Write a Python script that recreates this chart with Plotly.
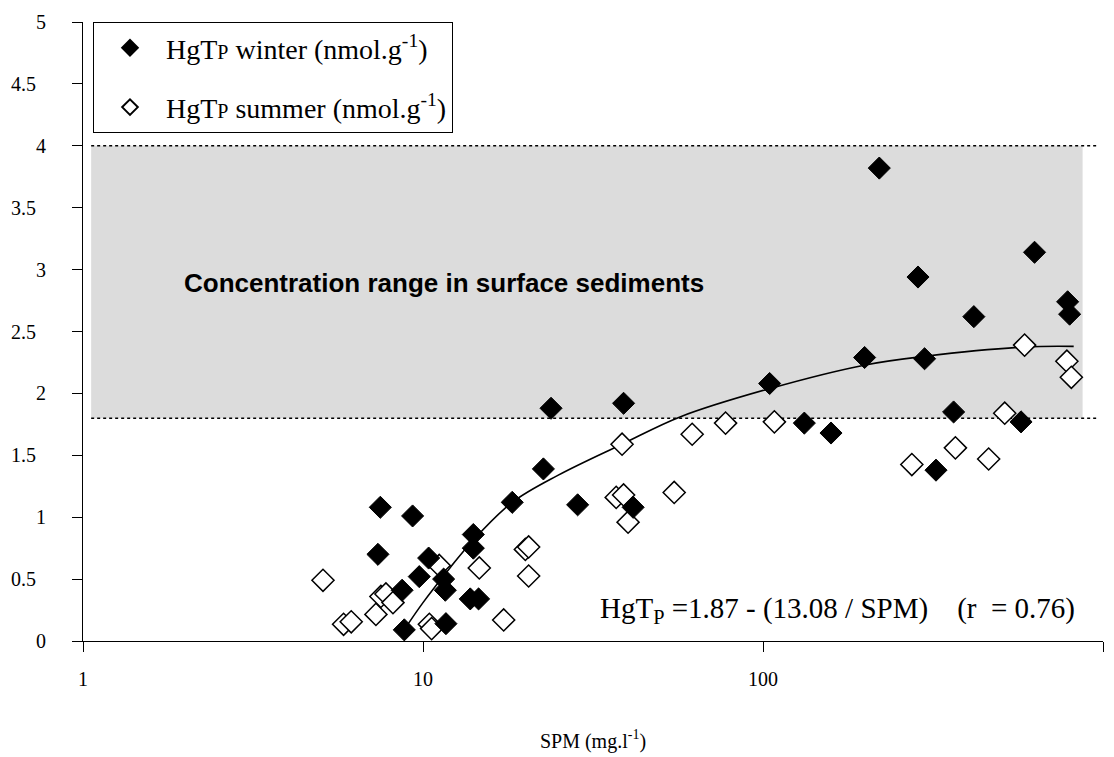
import plotly.graph_objects as go

# ---- data ----
winter_spm = [7.49, 9.32, 7.37, 10.39, 9.75, 8.68, 11.5, 11.63, 14.06, 14.06, 18.3, 13.77, 14.57,
              8.81, 11.68, 23.8, 38.9, 22.6, 28.5, 41.5, 104.6, 132.3, 158.5, 363.6, 322.7, 574,
              219.8, 629, 285.7, 417, 787, 797.8, 199, 298.7]
winter_hg = [1.08, 1.01, 0.70, 0.67, 0.52, 0.41, 0.50, 0.41, 0.86, 0.75, 1.12, 0.34, 0.34,
             0.09, 0.14, 1.88, 1.92, 1.39, 1.10, 1.08, 2.08, 1.76, 1.68, 1.85, 1.38, 1.77,
             3.82, 3.14, 2.94, 2.62, 2.74, 2.64, 2.29, 2.28]

summer_spm = [5.08, 5.84, 6.15, 7.27, 7.52, 7.78, 8.16, 11.16, 10.44, 10.6, 14.64, 17.27,
              38.5, 61.9, 77.6, 108, 37.0, 38.9, 40.1, 54.8, 20.0, 20.45, 20.45,
              274, 368, 461, 514, 588, 783, 807]
summer_hg = [0.49, 0.135, 0.155, 0.215, 0.36, 0.38, 0.31, 0.61, 0.135, 0.10, 0.59, 0.17,
             1.59, 1.67, 1.76, 1.77, 1.16, 1.18, 0.96, 1.20, 0.74, 0.76, 0.525,
             1.425, 1.56, 1.47, 1.84, 2.39, 2.26, 2.13]

fit_spm = [8.8, 10, 12, 14, 18.3, 25, 38.5, 57, 105, 200, 300, 590, 820]
fit_hg = [0.09, 0.31, 0.59, 0.81, 1.12, 1.34, 1.59, 1.81, 2.04, 2.23, 2.30, 2.375, 2.38]

sediment_range = [1.8, 4.0]

x_tickvals = [1, 10, 100, 1000]
x_ticktext = ["1", "10", "100", "1000"]
y_tickvals = [0, 0.5, 1, 1.5, 2, 2.5, 3, 3.5, 4, 4.5, 5]
y_ticktext = ["0", "0.5", "1", "1.5", "2", "2.5", "3", "3.5", "4", "4.5", "5"]

SERIF = "Liberation Serif"
SANS = "Liberation Sans"
P_SMALL = '<span style="font-size:20px">P</span>'
NB = "\u00a0"
# decimal labels sit a little further left than the integer ones in the reference
y_ticklabels = [t + NB * 2 if "." in t else t for t in y_ticktext]

fig = go.Figure()

fig.add_trace(go.Scatter(
    x=fit_spm, y=fit_hg, mode="lines",
    line=dict(color="black", width=1.6, shape="spline", smoothing=1.0),
    showlegend=False, hoverinfo="skip"))

fig.add_trace(go.Scatter(
    x=summer_spm, y=summer_hg, mode="markers",
    name="HgT" + P_SMALL + " summer (nmol.g<sup>-1</sup>)",
    marker=dict(symbol="diamond", size=17, color="white", line=dict(color="black", width=1.5)),
    legendgroup="s", legendrank=2))

fig.add_trace(go.Scatter(
    x=winter_spm, y=winter_hg, mode="markers",
    name="HgT" + P_SMALL + " winter (nmol.g<sup>-1</sup>)",
    marker=dict(symbol="diamond", size=17, color="black", line=dict(color="black", width=1)),
    legendgroup="w", legendrank=1))

# grey band and dotted limits
fig.add_shape(type="rect", xref="paper", yref="y", x0=0.008, x1=0.980,
              y0=sediment_range[0], y1=sediment_range[1],
              fillcolor="#dcdcdc", line=dict(width=0), layer="below")
for yv in sediment_range:
    fig.add_shape(type="line", xref="paper", yref="y", x0=0.008, x1=0.994, y0=yv, y1=yv,
                  line=dict(color="black", width=1.5, dash="dot"), layer="below")

fig.add_annotation(xref="paper", yref="paper", x=0.097, y=0.578, xanchor="left", yanchor="middle",
                   text="<b>Concentration range in surface sediments</b>", showarrow=False,
                   font=dict(family=SANS, size=26, color="black"))
fig.add_annotation(xref="paper", yref="paper", x=0.740, y=0.05, xanchor="center", yanchor="middle",
                   text="HgT<sub>P</sub> =1.87 - (13.08 / SPM)    (r  = 0.76)", showarrow=False,
                   font=dict(family=SERIF, size=29, color="black"))

# the page body has an 8px margin, so the figure is 8px smaller and margins 8px tighter
fig.update_layout(
    template="none",
    width=1106, height=749,
    margin=dict(l=75, r=11, t=14, b=116, autoexpand=False),
    paper_bgcolor="white", plot_bgcolor="white",
    showlegend=True,
    legend=dict(x=0.0098, y=1.0, xanchor="left", yanchor="top",
                bordercolor="black", borderwidth=1, bgcolor="white",
                font=dict(family=SERIF, size=28, color="black"),
                traceorder="grouped", tracegroupgap=20, itemwidth=62,
                itemsizing="constant"),
)

fig.update_xaxes(type="log", range=[0, 3], tickvals=x_tickvals, ticktext=x_ticktext,
                 ticks="outside", ticklen=10, tickcolor="black", tickwidth=1,
                 showline=True, linecolor="black", linewidth=1, showgrid=False, zeroline=False,
                 automargin=False, ticklabelstandoff=10,
                 tickfont=dict(family=SERIF, size=20, color="black"),
                 title=dict(text="SPM (mg.l<sup>-1</sup>)", standoff=44,
                            font=dict(family=SERIF, size=20, color="black")))
fig.update_yaxes(range=[0, 5], tickvals=y_tickvals, ticktext=y_ticklabels,
                 ticks="outside", ticklen=10, tickcolor="black", tickwidth=1,
                 showline=True, linecolor="black", linewidth=1, showgrid=False, zeroline=False,
                 automargin=False, ticklabelstandoff=22,
                 tickfont=dict(family=SERIF, size=20, color="black"))

fig.write_html("out.html")
